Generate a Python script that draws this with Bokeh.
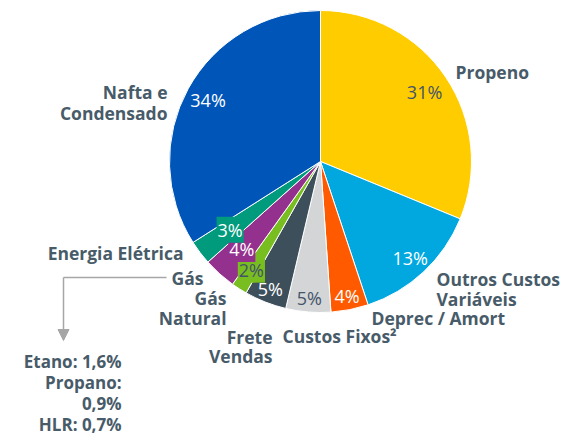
import math
from bokeh.plotting import figure
from bokeh.models import Range1d, Arrow, NormalHead
from bokeh.core.properties import value
from bokeh.embed import file_html
from bokeh.resources import INLINE

# ---- data ----
categories = ["Propeno", "Outros Custos Variáveis", "Deprec / Amort", "Custos Fixos²",
              "Frete Vendas", "Gás Natural", "Gás", "Energia Elétrica", "Nafta e Condensado"]
shares = [31.2, 13.7, 4.0, 4.8, 4.5, 1.7, 3.5, 2.6, 34.0]
pct_labels = ["31%", "13%", "4%", "5%", "5%", "2%", "4%", "3%", "34%"]
gas_detail = ["Etano: 1,6%", "Propano:", "0,9%", "HLR: 0,7%"]

# ---- style ----
colors = ["#FFCC00", "#00A8DF", "#FF5A00", "#D3D5D7", "#3E4F5C", "#78BE20", "#94318E", "#009A7C", "#0055B8"]
pct_colors = ["#44546A", "white", "white", "#44546A", "white", "#44546A", "white", "white", "white"]
pct_bg = [None, None, None, None, None, "#78BE20", "#94318E", "#009A7C", None]
pct_rfac = [0.83, 0.87, 0.91, 0.91, 0.91, 0.85, 0.78, 0.75, 0.85]
TXT = "#485B69"
FONT = "Open Sans"

W, H = 564, 437
def X(px): return px
def Y(py): return H - py

p = figure(width=W, height=H, output_backend="svg", toolbar_location=None,
           x_range=Range1d(0, W), y_range=Range1d(0, H), min_border=0)
p.axis.visible = False
p.grid.visible = False
p.outline_line_color = None

cx, cy, R = X(320), Y(161), 151
total = sum(shares)
cum = 0.0
starts, ends, mids = [], [], []
for s in shares:
    a0 = math.pi / 2 - 2 * math.pi * cum / total
    cum += s
    a1 = math.pi / 2 - 2 * math.pi * cum / total
    starts.append(a0); ends.append(a1); mids.append((a0 + a1) / 2)

p.wedge(x=[cx] * len(shares), y=[cy] * len(shares), radius=R,
        start_angle=starts, end_angle=ends, direction="clock",
        fill_color=colors, line_color="white", line_width=1)

# percentage labels
for i, lab in enumerate(pct_labels):
    r = R * pct_rfac[i]
    tx = cx + r * math.cos(mids[i])
    ty = cy + r * math.sin(mids[i])
    kw = {}
    if pct_bg[i]:
        kw = dict(background_fill_color=pct_bg[i], padding=1)
    p.text(x=[tx], y=[ty], text=[lab], text_align="center", text_baseline="middle",
           text_font=value(FONT), text_font_size="18px", text_color=pct_colors[i], **kw)

# category labels (layout positions in page pixels)
outer = [
    ("Propeno", 455, 71, "left"),
    ("Outros Custos", 436, 278, "left"),
    ("Variáveis", 436, 298, "left"),
    ("Deprec / Amort", 371, 317, "left"),
    ("Custos Fixos²", 282, 335, "left"),
    ("Frete", 272, 336, "right"),
    ("Vendas", 272, 355, "right"),
    ("Gás", 226, 297, "right"),
    ("Natural", 226, 317, "right"),
    ("Gás", 203, 277, "right"),
    ("Energia Elétrica", 183, 252, "right"),
    ("Nafta e", 167, 91, "right"),
    ("Condensado", 167, 112, "right"),
]
for t, px, py, al in outer:
    p.text(x=[X(px)], y=[Y(py)], text=[t], text_align=al, text_baseline="middle",
           text_font=value(FONT), text_font_size="17.5px", text_font_style="bold", text_color=TXT)

# connector arrow from "Gás"
p.line(x=[X(166), X(63)], y=[Y(277), Y(277)], line_color="#A6A6A6", line_width=1.5)
p.add_layout(Arrow(end=NormalHead(size=11, fill_color="#A6A6A6", line_color="#A6A6A6"),
                   x_start=X(63), y_start=Y(277), x_end=X(63), y_end=Y(340),
                   line_color="#A6A6A6", line_width=1.5))

for k, t in enumerate(gas_detail):
    p.text(x=[X(121)], y=[Y(361 + 21 * k)], text=[t], text_align="right", text_baseline="middle",
           text_font=value(FONT), text_font_size="17px", text_font_style="bold", text_color=TXT)

open("out.html", "w").write(file_html(p, INLINE))
